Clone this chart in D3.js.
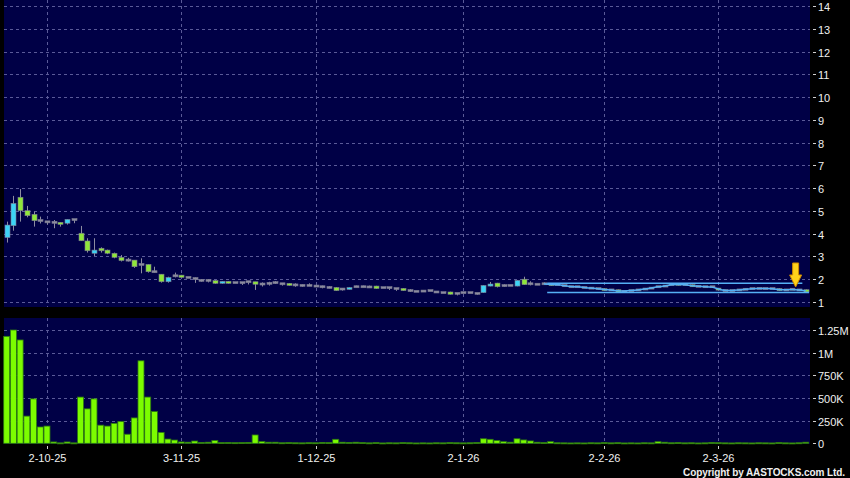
<!DOCTYPE html>
<html>
  <head>
    <script src="https://d3js.org/d3.v7.min.js"></script>
    <style>
      body { margin: 0; background: #000; }
      text { font-family: "Liberation Sans", Arial, sans-serif; }
    </style>
  </head>
  <body>
    <script>
      const width = 850;
      const height = 478;

      // daily OHLC, oldest first
      const opens = [3.83,4.35,5.60,5.01,4.85,4.58,4.52,4.50,4.50,4.46,4.62,4.02,3.68,3.14,3.36,3.28,3.14,2.96,2.84,2.84,
        2.65,2.65,2.33,2.22,1.89,2.15,2.18,2.08,2.03,1.95,1.95,1.94,1.82,1.91,1.85,1.85,1.89,1.89,1.79,1.82,
        1.85,1.80,1.82,1.75,1.73,1.73,1.70,1.67,1.64,1.64,1.57,1.56,1.67,1.67,1.66,1.70,1.63,1.63,1.59,1.60,
        1.50,1.47,1.48,1.50,1.44,1.41,1.44,1.38,1.41,1.41,1.38,1.41,1.70,1.83,1.72,1.73,1.70,2.00,1.80,1.78,
        1.80,1.82,1.76,1.72,1.67,1.67,1.64,1.61,1.59,1.59,1.53,1.54,1.47,1.50,1.53,1.57,1.61,1.67,1.70,1.76,
        1.82,1.76,1.76,1.69,1.67,1.67,1.61,1.50,1.50,1.53,1.56,1.59,1.60,1.59,1.59,1.59,1.53,1.56,1.53,1.54];
      const highs = [4.53,5.66,5.96,5.22,4.97,4.75,4.55,4.60,4.50,4.63,4.63,4.34,3.80,3.80,3.40,3.30,3.17,3.06,2.94,2.84,
        2.92,2.65,2.55,2.22,2.11,2.29,2.19,2.10,2.08,2.01,2.01,1.96,1.92,1.92,1.86,1.86,1.90,1.89,1.86,1.89,
        1.92,1.81,1.83,1.82,1.77,1.82,1.71,1.72,1.70,1.65,1.60,1.65,1.72,1.72,1.72,1.71,1.64,1.64,1.60,1.61,
        1.57,1.48,1.49,1.51,1.45,1.42,1.45,1.39,1.42,1.42,1.39,1.74,1.88,1.84,1.78,1.74,1.96,2.11,1.91,1.79,
        1.86,1.83,1.77,1.74,1.69,1.69,1.66,1.63,1.61,1.60,1.55,1.55,1.49,1.52,1.55,1.59,1.63,1.69,1.72,1.78,
        1.83,1.78,1.77,1.71,1.69,1.69,1.62,1.52,1.52,1.55,1.58,1.61,1.62,1.61,1.61,1.60,1.55,1.58,1.55,1.55];
      const lows = [3.61,4.13,4.53,4.72,4.31,4.45,4.40,4.24,4.31,4.40,4.46,3.69,3.17,3.02,3.17,3.10,2.92,2.78,2.78,2.50,
        2.26,2.29,2.29,1.85,1.85,2.08,2.07,2.05,1.84,1.89,1.86,1.80,1.80,1.81,1.84,1.75,1.77,1.53,1.68,1.72,
        1.79,1.72,1.72,1.67,1.67,1.70,1.69,1.60,1.60,1.49,1.50,1.55,1.65,1.65,1.65,1.58,1.62,1.53,1.49,1.49,
        1.44,1.46,1.47,1.49,1.43,1.40,1.33,1.29,1.40,1.40,1.32,1.40,1.69,1.64,1.67,1.72,1.69,1.75,1.73,1.77,
        1.78,1.71,1.75,1.70,1.65,1.65,1.62,1.59,1.57,1.49,1.51,1.43,1.45,1.48,1.51,1.55,1.59,1.65,1.68,1.74,
        1.72,1.74,1.66,1.67,1.65,1.65,1.52,1.48,1.48,1.51,1.54,1.57,1.58,1.57,1.57,1.49,1.51,1.54,1.51,1.43];
      const closes = [4.38,5.33,5.01,4.79,4.57,4.58,4.52,4.50,4.41,4.63,4.62,3.69,3.25,3.28,3.25,3.14,2.96,2.82,2.84,2.55,
        2.65,2.33,2.33,1.89,2.08,2.15,2.08,2.08,2.03,1.95,1.95,1.82,1.91,1.82,1.85,1.85,1.89,1.78,1.79,1.82,
        1.85,1.80,1.73,1.75,1.73,1.73,1.70,1.67,1.64,1.50,1.57,1.64,1.67,1.67,1.66,1.59,1.63,1.63,1.59,1.50,
        1.50,1.47,1.48,1.50,1.44,1.41,1.34,1.38,1.41,1.41,1.38,1.73,1.79,1.67,1.72,1.73,1.95,1.76,1.80,1.78,
        1.80,1.72,1.76,1.72,1.67,1.67,1.64,1.61,1.59,1.50,1.53,1.44,1.47,1.50,1.53,1.57,1.61,1.67,1.70,1.76,
        1.73,1.76,1.67,1.69,1.67,1.67,1.53,1.50,1.50,1.53,1.56,1.59,1.60,1.59,1.59,1.50,1.53,1.56,1.53,1.44];
      const volumes = [1180000,1250000,1140000,300000,490000,180000,190000,15000,5000,15000,
        5000,510000,380000,490000,200000,190000,220000,240000,100000,280000,
        910000,510000,350000,120000,47000,36000,15000,12000,25000,10000,
        12000,30000,8000,9000,7000,8000,10000,92000,20000,12000,
        12000,6000,8000,6000,5000,7000,6000,10000,8000,44000,
        12000,10000,12000,8000,5000,8000,4000,6000,5000,8000,
        6000,4000,5000,4000,6000,5000,8000,6000,5000,6000,
        9000,50000,44000,30000,18000,12000,50000,37000,26000,12000,
        8000,18000,6000,5000,4000,5000,4000,6000,5000,8000,
        5000,7000,4000,5000,4000,6000,5000,18000,12000,6000,
        8000,5000,6000,4000,5000,9000,7000,5000,4000,6000,
        5000,4000,6000,5000,4000,8000,5000,4000,6000,12000];

      const dateTicks = [6, 26, 46, 68, 89, 106];
      const dateLabels = ["2-10-25", "3-11-25", "1-12-25", "2-1-26", "2-2-26", "2-3-26"];
      const priceTicks = [1,2,3,4,5,6,7,8,9,10,11,12,13,14];
      const volTicks = [0, 250000, 500000, 750000, 1000000, 1250000];
      const volLabels = ["0", "250K", "500K", "750K", "1M", "1.25M"];

      // channel drawn at the right end
      const channelStart = 80.5;
      const channelLevels = [1.82, 1.42];
      const channelEnds = [118.5, 119.5];
      const arrowIndex = 117.5;
      const arrowPrice = 1.66;

      const panelLeft = 4, panelRight = 810;
      const pricePanel = { y0: 0, y1: 307 };
      const volPanel = { y0: 318, y1: 444 };

      const bg = "#000046";
      const gridColor = "#5a5a98";

      const svg = d3.select("body")
        .append("svg")
        .attr("width", width)
        .attr("height", height)
        .style("background", "#000")
        .style("display", "block");

      const idx = d3.range(closes.length);

      const x = d3.scaleLinear()
        .domain([0, closes.length - 1])
        .range([6.7, 805.7]);

      const y = d3.scaleLinear()
        .domain([1, 14])
        .range([302, 6]);

      const yv = d3.scaleLinear()
        .domain([0, 1250000])
        .range([443.3, 330]);

      // panels
      svg.append("rect")
        .attr("x", panelLeft).attr("y", pricePanel.y0)
        .attr("width", panelRight - panelLeft).attr("height", pricePanel.y1 - pricePanel.y0)
        .attr("fill", bg);
      svg.append("rect")
        .attr("x", panelLeft).attr("y", volPanel.y0)
        .attr("width", panelRight - panelLeft).attr("height", volPanel.y1 - volPanel.y0)
        .attr("fill", bg);

      // grid
      svg.append("g").selectAll("line")
        .data(priceTicks)
        .join("line")
        .attr("x1", panelLeft).attr("x2", panelRight)
        .attr("y1", d => Math.round(y(d)) + 0.5).attr("y2", d => Math.round(y(d)) + 0.5)
        .attr("stroke", gridColor).attr("stroke-dasharray", "3,3");

      svg.append("g").selectAll("line")
        .data(volTicks.slice(1))
        .join("line")
        .attr("x1", panelLeft).attr("x2", panelRight)
        .attr("y1", d => Math.round(yv(d)) + 0.5).attr("y2", d => Math.round(yv(d)) + 0.5)
        .attr("stroke", gridColor).attr("stroke-dasharray", "3,3");

      const vg = svg.append("g");
      dateTicks.forEach(t => {
        const xx = Math.round(x(t)) + 0.5;
        vg.append("line").attr("x1", xx).attr("x2", xx).attr("y1", pricePanel.y0).attr("y2", pricePanel.y1)
          .attr("stroke", gridColor).attr("stroke-dasharray", "3,3");
        vg.append("line").attr("x1", xx).attr("x2", xx).attr("y1", volPanel.y0).attr("y2", volPanel.y1)
          .attr("stroke", gridColor).attr("stroke-dasharray", "3,3");
      });

      // volume bars
      svg.append("g").selectAll("rect")
        .data(idx)
        .join("rect")
        .attr("x", i => x(i) - 3)
        .attr("width", 6)
        .attr("y", i => yv(volumes[i]))
        .attr("height", i => Math.max(1, yv(0) - yv(volumes[i])))
        .attr("fill", "#7cfc00")
        .attr("stroke", "#2c7a10")
        .attr("stroke-width", 0.8);

      // candles
      const colorOf = i => closes[i] > opens[i] ? "#3cd3f5" : (closes[i] < opens[i] ? "#8fe63a" : "#8c8ca0");

      const cg = svg.append("g");
      cg.selectAll("line")
        .data(idx)
        .join("line")
        .attr("x1", i => Math.round(x(i)) + 0.5).attr("x2", i => Math.round(x(i)) + 0.5)
        .attr("y1", i => y(highs[i])).attr("y2", i => y(lows[i]))
        .attr("stroke", "#8c8ca0");

      cg.selectAll("rect")
        .data(idx)
        .join("rect")
        .attr("x", i => Math.round(x(i)) - 2)
        .attr("width", 5)
        .attr("y", i => Math.min(y(opens[i]), y(closes[i])) - (opens[i] === closes[i] ? 1 : 0))
        .attr("height", i => Math.max(2, Math.abs(y(opens[i]) - y(closes[i]))))
        .attr("fill", colorOf)
        .attr("stroke", "#7a7a90")
        .attr("stroke-width", 0.6);

      // channel lines and trend curve
      channelLevels.forEach((lv, k) => {
        svg.append("line")
          .attr("x1", x(channelStart)).attr("x2", x(channelEnds[k]))
          .attr("y1", y(lv)).attr("y2", y(lv))
          .attr("stroke", "#55b0f5").attr("stroke-width", 1.5);
      });

      const trendIdx = idx.filter(i => i >= 80);
      svg.append("path")
        .datum(trendIdx)
        .attr("fill", "none")
        .attr("stroke", "#55b0f5")
        .attr("stroke-width", 1.5)
        .attr("d", d3.line()
          .x(i => x(i))
          .y(i => y((opens[i] + closes[i]) / 2))
          .curve(d3.curveBasis));

      // yellow arrow
      const ax = x(arrowIndex), ay = y(arrowPrice);
      svg.append("path")
        .attr("d", `M${ax - 3},${ay - 24} L${ax + 3},${ay - 24} L${ax + 3},${ay - 12} L${ax + 6},${ay - 12} L${ax},${ay} L${ax - 6},${ay - 12} L${ax - 3},${ay - 12} Z`)
        .attr("fill", "#ffd21a")
        .attr("stroke", "#d08a00")
        .attr("stroke-width", 1);

      // right axes
      const ra = svg.append("g");
      priceTicks.forEach(t => {
        const yy = Math.round(y(t)) + 0.5;
        ra.append("line").attr("x1", 813).attr("x2", 816).attr("y1", yy).attr("y2", yy).attr("stroke", "#cfcfcf");
        ra.append("text").attr("x", 818).attr("y", yy + 4).text(t)
          .attr("fill", "#f0f0f0").attr("font-size", 11);
      });
      volTicks.forEach((t, k) => {
        const yy = Math.round(yv(t)) + 0.5;
        ra.append("line").attr("x1", 813).attr("x2", 816).attr("y1", yy).attr("y2", yy).attr("stroke", "#cfcfcf");
        ra.append("text").attr("x", 818).attr("y", yy + 4).text(volLabels[k])
          .attr("fill", "#f0f0f0").attr("font-size", 11);
      });

      // date axis
      dateTicks.forEach((t, k) => {
        const xx = Math.round(x(t)) + 0.5;
        svg.append("line").attr("x1", xx).attr("x2", xx).attr("y1", 446).attr("y2", 449).attr("stroke", "#cfcfcf");
        svg.append("text").attr("x", xx).attr("y", 462).attr("text-anchor", "middle")
          .text(dateLabels[k]).attr("fill", "#f0f0f0").attr("font-size", 11);
      });

      svg.append("text")
        .attr("x", 683).attr("y", 476)
        .attr("textLength", 162).attr("lengthAdjust", "spacing")
        .attr("fill", "#f0f0f0").attr("font-size", 10).attr("font-weight", "bold")
        .text("Copyright by AASTOCKS.com Ltd.");
    </script>
  </body>
</html>
